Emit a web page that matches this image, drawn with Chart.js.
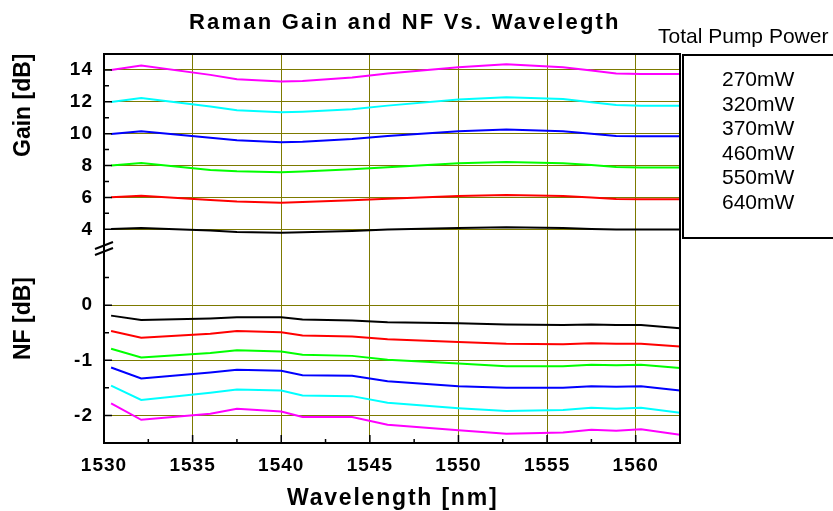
<!DOCTYPE html>
<html><head><meta charset="utf-8">
<script src="https://cdn.jsdelivr.net/npm/chart.js@4"></script>
<style>html,body{margin:0;padding:0;background:#fff}canvas{display:block}</style>
</head><body>
<canvas id="c" width="833" height="511"></canvas>
<script>
// ---- data ----
const wavelengths = [1530.4, 1532.1, 1536.0, 1537.5, 1540.0, 1541.2, 1544.0, 1546.0, 1550.0, 1552.7, 1555.9, 1557.5, 1558.9, 1560.3, 1562.5];
const powers = ['270mW', '320mW', '370mW', '460mW', '550mW', '640mW'];
const colors = ['#000000', '#ff0000', '#00ff00', '#0000ff', '#00ffff', '#ff00ff'];

const gain270 = [4.02, 4.08, 3.92, 3.83, 3.79, 3.81, 3.90, 3.98, 4.08, 4.13, 4.08, 4.02, 3.98, 3.98, 3.98];
const gain320 = [6.01, 6.11, 5.84, 5.74, 5.67, 5.72, 5.82, 5.92, 6.09, 6.15, 6.09, 5.99, 5.90, 5.88, 5.88];
const gain370 = [8.00, 8.16, 7.72, 7.64, 7.58, 7.62, 7.77, 7.89, 8.14, 8.23, 8.14, 8.04, 7.91, 7.87, 7.87];
const gain460 = [9.98, 10.15, 9.75, 9.59, 9.46, 9.50, 9.67, 9.86, 10.15, 10.26, 10.15, 10.00, 9.86, 9.84, 9.84];
const gain550 = [11.99, 12.24, 11.70, 11.47, 11.34, 11.38, 11.53, 11.76, 12.14, 12.28, 12.18, 11.97, 11.80, 11.76, 11.76];
const gain640 = [14.00, 14.27, 13.69, 13.41, 13.27, 13.31, 13.52, 13.77, 14.17, 14.36, 14.17, 13.96, 13.77, 13.75, 13.75];

const nf270 = [-0.19, -0.27, -0.24, -0.22, -0.22, -0.26, -0.28, -0.31, -0.33, -0.35, -0.36, -0.35, -0.36, -0.36, -0.42];
const nf320 = [-0.47, -0.59, -0.52, -0.47, -0.49, -0.55, -0.57, -0.62, -0.67, -0.70, -0.71, -0.69, -0.70, -0.70, -0.75];
const nf370 = [-0.79, -0.95, -0.87, -0.82, -0.84, -0.90, -0.92, -0.99, -1.06, -1.11, -1.11, -1.08, -1.09, -1.08, -1.14];
const nf460 = [-1.13, -1.33, -1.22, -1.17, -1.19, -1.27, -1.28, -1.38, -1.47, -1.50, -1.50, -1.47, -1.48, -1.47, -1.55];
const nf550 = [-1.46, -1.72, -1.59, -1.53, -1.55, -1.64, -1.65, -1.77, -1.87, -1.92, -1.90, -1.86, -1.88, -1.86, -1.95];
const nf640 = [-1.78, -2.08, -1.97, -1.88, -1.93, -2.03, -2.03, -2.17, -2.27, -2.33, -2.31, -2.26, -2.28, -2.25, -2.35];

const xTickLabels = [1530, 1535, 1540, 1545, 1550, 1555, 1560];
const xMinorTicks = [1532.5, 1537.5, 1542.5, 1547.5, 1552.5, 1557.5, 1562.5];
const gainTickLabels = [4, 6, 8, 10, 12, 14];
const gainMinorTicks = [5, 7, 9, 11, 13];
const nfTickLabels = [0, -1, -2];
const nfMinorTicks = [0.5, -0.5, -1.5];

const titleText = 'Raman Gain and NF Vs. Wavelegth';
const legendTitle = 'Total Pump Power';
const gainTitle = 'Gain [dB]';
const nfTitle = 'NF [dB]';
const xTitle = 'Wavelength [nm]';

// ---- build ----
const FONT = "'Liberation Sans', Arial, sans-serif";
const OLIVE = 'rgb(125,122,0)';
const gainSeries = [gain270, gain320, gain370, gain460, gain550, gain640];
const nfSeries = [nf270, nf320, nf370, nf460, nf550, nf640];
const toPts = arr => arr.map((v, i) => ({x: wavelengths[i], y: v}));

const datasets = [];
gainSeries.forEach((s, i) => datasets.push({
  label: powers[i] + ' gain', data: toPts(s), yAxisID: 'yG',
  borderColor: colors[i], backgroundColor: colors[i], borderWidth: 2, pointRadius: 0, tension: 0, fill: false
}));
nfSeries.forEach((s, i) => datasets.push({
  label: powers[i] + ' NF', data: toPts(s), yAxisID: 'yN',
  borderColor: colors[i], backgroundColor: colors[i], borderWidth: 2, pointRadius: 0, tension: 0, fill: false
}));

const deco = {
  id: 'deco',
  beforeDraw(chart) { chart.ctx.letterSpacing = '1px'; },
  afterDatasetsDraw(chart) {
    const ctx = chart.ctx, a = chart.chartArea;
    const xs = chart.scales.x, yg = chart.scales.yG, yn = chart.scales.yN;
    ctx.save();
    ctx.strokeStyle = '#000';
    ctx.lineWidth = 1.5;
    ctx.beginPath();
    xTickLabels.forEach(v => { const p = xs.getPixelForValue(v); ctx.moveTo(p, a.bottom); ctx.lineTo(p, a.bottom - 8); });
    xMinorTicks.forEach(v => { const p = xs.getPixelForValue(v); ctx.moveTo(p, a.bottom); ctx.lineTo(p, a.bottom - 4); });
    gainTickLabels.forEach(v => { const p = yg.getPixelForValue(v); ctx.moveTo(a.left, p); ctx.lineTo(a.left + 8, p); });
    gainMinorTicks.forEach(v => { const p = yg.getPixelForValue(v); ctx.moveTo(a.left, p); ctx.lineTo(a.left + 5, p); });
    nfTickLabels.forEach(v => { const p = yn.getPixelForValue(v); ctx.moveTo(a.left, p); ctx.lineTo(a.left + 8, p); });
    nfMinorTicks.forEach(v => { const p = yn.getPixelForValue(v); ctx.moveTo(a.left, p); ctx.lineTo(a.left + 5, p); });
    ctx.stroke();
    // frame
    ctx.lineWidth = 2;
    ctx.strokeRect(a.left, a.top, a.right - a.left, a.bottom - a.top);
    // axis break marks
    const yb = yg.bottom;
    ctx.beginPath();
    ctx.moveTo(a.left - 9, yb - 1); ctx.lineTo(a.left + 9, yb - 8);
    ctx.moveTo(a.left - 9, yb + 5); ctx.lineTo(a.left + 9, yb - 2);
    ctx.stroke();
    ctx.restore();
  },
  afterDraw(chart) {
    const ctx = chart.ctx;
    ctx.save();
    ctx.fillStyle = '#000';
    ctx.textAlign = 'left';
    ctx.textBaseline = 'alphabetic';
    // title
    ctx.letterSpacing = '2.2px';
    ctx.font = 'bold 22px ' + FONT;
    ctx.fillText(titleText, 189, 28.5);
    // x title
    ctx.letterSpacing = '1.8px';
    ctx.font = 'bold 23px ' + FONT;
    ctx.fillText(xTitle, 287, 505);
    // y titles
    ctx.letterSpacing = '0px';
    ctx.save(); ctx.translate(30, 157); ctx.rotate(-Math.PI / 2); ctx.fillText(gainTitle, 0, 0); ctx.restore();
    ctx.save(); ctx.translate(30, 360); ctx.rotate(-Math.PI / 2); ctx.fillText(nfTitle, 0, 0); ctx.restore();
    // legend
    ctx.font = '21px ' + FONT;
    ctx.fillText(legendTitle, 658, 43);
    ctx.lineWidth = 2;
    ctx.strokeStyle = '#000';
    ctx.strokeRect(683, 55, 160, 183);
    powers.forEach((p, i) => ctx.fillText(p, 722, 86 + i * 24.5));
    ctx.restore();
  }
};

new Chart(document.getElementById('c'), {
  type: 'line',
  data: { datasets },
  plugins: [deco],
  options: {
    responsive: false,
    animation: false,
    layout: { padding: { top: 54, right: 153, left: 0, bottom: 0 } },
    plugins: { legend: { display: false }, title: { display: false }, tooltip: { enabled: false } },
    scales: {
      x: {
        type: 'linear', min: 1530, max: 1562.5,
        afterFit: s => { s.height = 68; },
        border: { display: false },
        grid: { color: OLIVE, lineWidth: 1, drawTicks: false },
        ticks: {
          stepSize: 5, includeBounds: false, autoSkip: false, maxRotation: 0, padding: 11,
          color: '#000', font: { family: FONT, size: 19, weight: 'bold' },
          callback: v => xTickLabels.includes(v) ? String(v) : ''
        }
      },
      yN: {
        type: 'linear', position: 'left', stack: 'y', stackWeight: 193, min: -2.5, max: 1,
        afterFit: s => { s.width = 104; },
        border: { display: false },
        grid: { color: c => (c.tick && nfTickLabels.includes(c.tick.value)) ? OLIVE : 'rgba(0,0,0,0)', lineWidth: 1, drawTicks: false },
        ticks: {
          stepSize: 1, includeBounds: false, autoSkip: false, padding: 11,
          color: '#000', font: { family: FONT, size: 19, weight: 'bold' },
          callback: v => nfTickLabels.includes(v) ? String(v) : ''
        }
      },
      yG: {
        type: 'linear', position: 'left', stack: 'y', stackWeight: 196, min: 2.7, max: 15,
        afterFit: s => { s.width = 104; },
        border: { display: false },
        grid: { color: c => (c.tick && gainTickLabels.includes(c.tick.value)) ? OLIVE : 'rgba(0,0,0,0)', lineWidth: 1, drawTicks: false },
        ticks: {
          stepSize: 2, includeBounds: false, autoSkip: false, padding: 11,
          color: '#000', font: { family: FONT, size: 19, weight: 'bold' },
          callback: v => gainTickLabels.includes(v) ? String(v) : ''
        }
      }
    }
  }
});
</script>
</body></html>
